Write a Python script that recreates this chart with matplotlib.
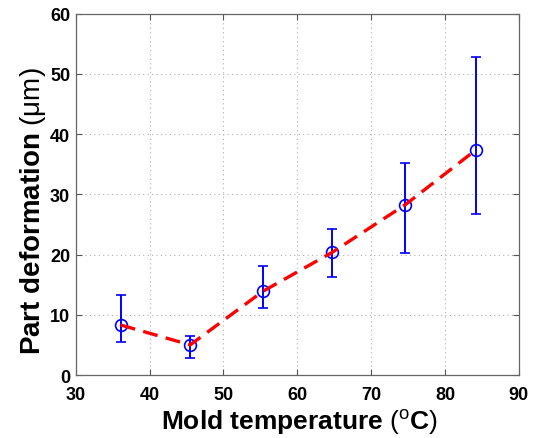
import matplotlib
matplotlib.use("Agg")
import matplotlib.pyplot as plt

temps = [36.1, 45.5, 55.35, 64.7, 74.65, 84.2]
deform = [8.3, 5.0, 13.9, 20.35, 28.3, 37.4]
err_upper = [13.3, 6.5, 18.05, 24.25, 35.2, 52.8]
err_lower = [5.5, 2.8, 11.1, 16.2, 20.2, 26.7]

plt.rcParams['font.family'] = ['Liberation Sans', 'DejaVu Sans']
plt.rcParams['font.weight'] = 'bold'
plt.rcParams['mathtext.fontset'] = 'custom'
plt.rcParams['mathtext.rm'] = 'Liberation Sans:weight=normal'
plt.rcParams['mathtext.it'] = 'Liberation Sans:italic:weight=normal'
plt.rcParams['mathtext.bf'] = 'Liberation Sans:bold'

fig = plt.figure(figsize=(5.36, 4.39), dpi=100)
ax = fig.add_axes([0.1412, 0.1435, 0.8268, 0.823])

yerr = [[d - l for d, l in zip(deform, err_lower)],
        [u - d for d, u in zip(deform, err_upper)]]
ax.errorbar(temps, deform, yerr=yerr, fmt='o', color='#0000ff', mfc='none',
            mec='#0000ff', markersize=8.5, mew=1.2, elinewidth=1.4,
            capsize=3.5, capthick=1.4, zorder=3)
ax.plot(temps, deform, color='#ff0000', linestyle=(0, (4.5, 2.5)), linewidth=2.4, zorder=4)

ax.set_xlim(30, 90)
ax.set_ylim(0, 60)
ax.set_xticks(range(30, 91, 10))
ax.set_yticks(range(0, 61, 10))
ax.grid(True, linestyle=(0, (1, 3)), color='#b0b0b0', linewidth=0.8)
ax.tick_params(direction='in', top=True, right=True, length=4, width=0.8,
               color='#555555', labelsize=13)
ax.tick_params(axis='x', pad=8)
ax.tick_params(axis='y', pad=4)
for lbl in ax.get_xticklabels() + ax.get_yticklabels():
    lbl.set_fontweight('bold')
for s in ax.spines.values():
    s.set_color('#666666')
    s.set_linewidth(0.9)

ax.set_xlabel(r'$\mathbf{Mold\ temperature}\ \mathrm{(}^{\mathrm{o}}\mathbf{C}\mathrm{)}$', fontsize=19)
ax.set_ylabel(r'$\mathbf{Part\ deformation}\ \mathrm{(μm)}$', fontsize=20)
ax.xaxis.label.set_va('center')
ax.yaxis.label.set_va('center')
ax.xaxis.set_label_coords(0.505, -0.13)
ax.yaxis.set_label_coords(-0.097, 0.455)

fig.savefig('out.png', dpi=100)
